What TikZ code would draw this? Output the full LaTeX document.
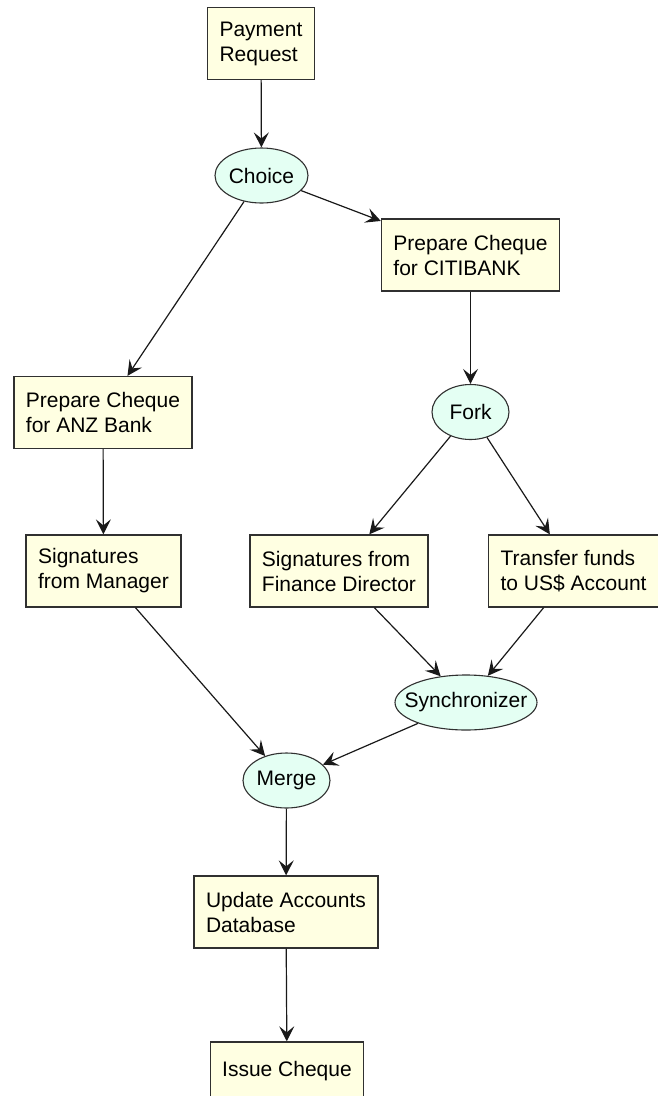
\documentclass[tikz,border=0pt]{standalone}
\usepackage{fontspec}
\setmainfont{Liberation Sans}
\usetikzlibrary{shapes.geometric,arrows.meta}
\definecolor{boxfill}{HTML}{FFFFE2}
\definecolor{gatefill}{HTML}{E4FFF3}
\definecolor{linegray}{HTML}{303030}
\tikzset{
  task/.style={draw=linegray, fill=boxfill, line width=1.3pt, align=left, inner xsep=12pt, minimum height=72pt},
  gate/.style={ellipse, draw=linegray, fill=gatefill, line width=1.1pt, inner sep=0pt, minimum height=55pt},
  flow/.style={-{Stealth[length=15pt,width=15pt,inset=6pt]}, line width=1.2pt, black!90}
}
\begin{document}
\begin{tikzpicture}[x=1pt,y=-1pt,font=\fontsize{21}{25}\selectfont]
\useasboundingbox (0,0) rectangle (658,1096);
\clip (0,0) rectangle (658,1096);
\node[task] (pay) at (261,43.5) {Payment\\Request};
\node[gate, minimum width=93, label=center:Choice] (choice) at (261.5,175.5) {};
\node[task] (citi) at (470.5,255) {Prepare Cheque\\for CITIBANK};
\node[task] (anz) at (103,412.5) {Prepare Cheque\\for ANZ Bank};
\node[gate, minimum width=77, label=center:Fork] (fork) at (470.5,412) {};
\node[task] (mgr) at (103.5,571) {Signatures\\from Manager};
\node[task] (fin) at (339,571) {Signatures from\\Finance Director};
\node[task, anchor=west] (xfer) at (488,571) {Transfer funds\\to US\$ Account};
\node[gate, minimum width=142, label=center:Synchronizer] (sync) at (466,702.5) {};
\node[gate, minimum width=87, label=center:Merge] (merge) at (286.5,780.5) {};
\node[task] (upd) at (286,912) {Update Accounts\\Database};
\node[task, minimum height=58] (issue) at (287,1071) {Issue Cheque};
% connectors
\draw[flow] (pay) -- (choice);
\draw[flow] (choice) -- (citi);
\draw[flow] (choice) -- (anz);
\draw[flow] (citi) -- (fork);
\draw[flow] (anz) -- (mgr);
\draw[flow] (fork) -- (fin);
\draw[flow] (fork) -- (xfer);
\draw[flow] (fin) -- (sync);
\draw[flow] (xfer) -- (sync);
\draw[flow] (mgr) -- (merge);
\draw[flow] (sync) -- (merge);
\draw[flow] (merge) -- (upd);
\draw[flow] (upd) -- (issue);
\end{tikzpicture}
\end{document}
